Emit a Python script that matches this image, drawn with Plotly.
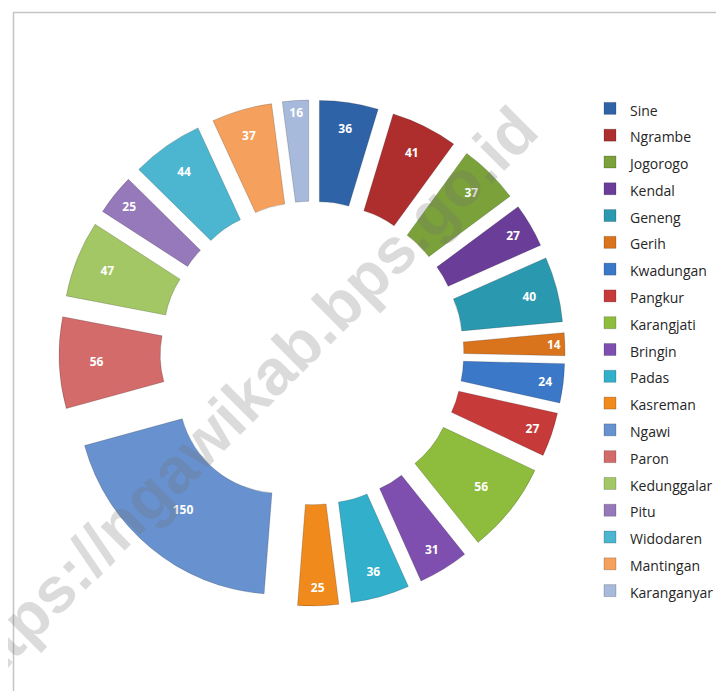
import plotly.graph_objects as go

# Kecamatan (clockwise from 12 o'clock) and their values
districts = [
    "Sine", "Ngrambe", "Jogorogo", "Kendal", "Geneng", "Gerih",
    "Kwadungan", "Pangkur", "Karangjati", "Bringin", "Padas", "Kasreman",
    "Ngawi", "Paron", "Kedunggalar", "Pitu", "Widodaren", "Mantingan",
    "Karanganyar",
]
values = [36, 41, 37, 27, 40, 14, 24, 27, 56, 31, 36, 25, 150, 56, 47, 25, 44, 37, 16]

# Office-2007 style palette: dark, normal, light shades
colors = [
    "#2F63A8", "#AE2E2E", "#7BA23A", "#6A3D99", "#2A99B0", "#D9731C",
    "#3C78C8", "#C73A3A", "#8EBD3E", "#7E4FAE", "#32AFCB", "#F08A1C",
    "#6892CF", "#D46B6B", "#A3C765", "#9579BA", "#4CB5CF", "#F5A05C",
    "#A7BADB",
]

W, H = 724, 691
cx, cy, rad = 304, 345, 253   # pie centre and outer extent (incl. pull), px

fig = go.Figure(
    go.Pie(
        labels=[f"<span style='font-size:14px'>{d}</span>" for d in districts],
        values=values,
        sort=False,
        direction="clockwise",
        rotation=0,
        hole=0.5,
        pull=0.25,
        marker=dict(colors=colors, line=dict(color="rgba(0,0,0,0.18)", width=1)),
        textinfo="value",
        textposition="inside",
        insidetextorientation="horizontal",
        textfont=dict(family="Open Sans", size=12, color="white", weight="bold"),
        domain=dict(x=[(cx - rad) / W, (cx + rad) / W], y=[1 - (cy + rad) / H, 1 - (cy - rad) / H]),
        hoverinfo="skip",
    )
)

# watermark
fig.add_annotation(
    text="https://ngawikab.bps.go.id",
    x=232 / W, y=1 - 396 / H, xref="paper", yref="paper",
    xanchor="center", yanchor="middle",
    textangle=-45, showarrow=False,
    font=dict(family="Liberation Sans", size=64, color="rgba(110,110,110,0.25)", weight="bold"),
)

# chart frame (only top and left edges are in view)
fig.add_shape(type="rect", xref="paper", yref="paper",
              x0=5.5 / W, x1=1.2, y0=-0.2, y1=1 - 4.5 / H,
              line=dict(color="#C4C4C4", width=1.5), layer="below")

fig.update_layout(
    width=W, height=H,
    margin=dict(l=0, r=0, t=0, b=0, autoexpand=False),
    paper_bgcolor="white",
    plot_bgcolor="white",
    font=dict(family="Open Sans", color="#262626"),
    legend=dict(
        x=582 / W, y=1 - 82 / H, xanchor="left", yanchor="top",
        font=dict(size=18.3, family="Open Sans", color="#262626"),
        itemclick=False,
    ),
)

fig.write_html("out.html")
